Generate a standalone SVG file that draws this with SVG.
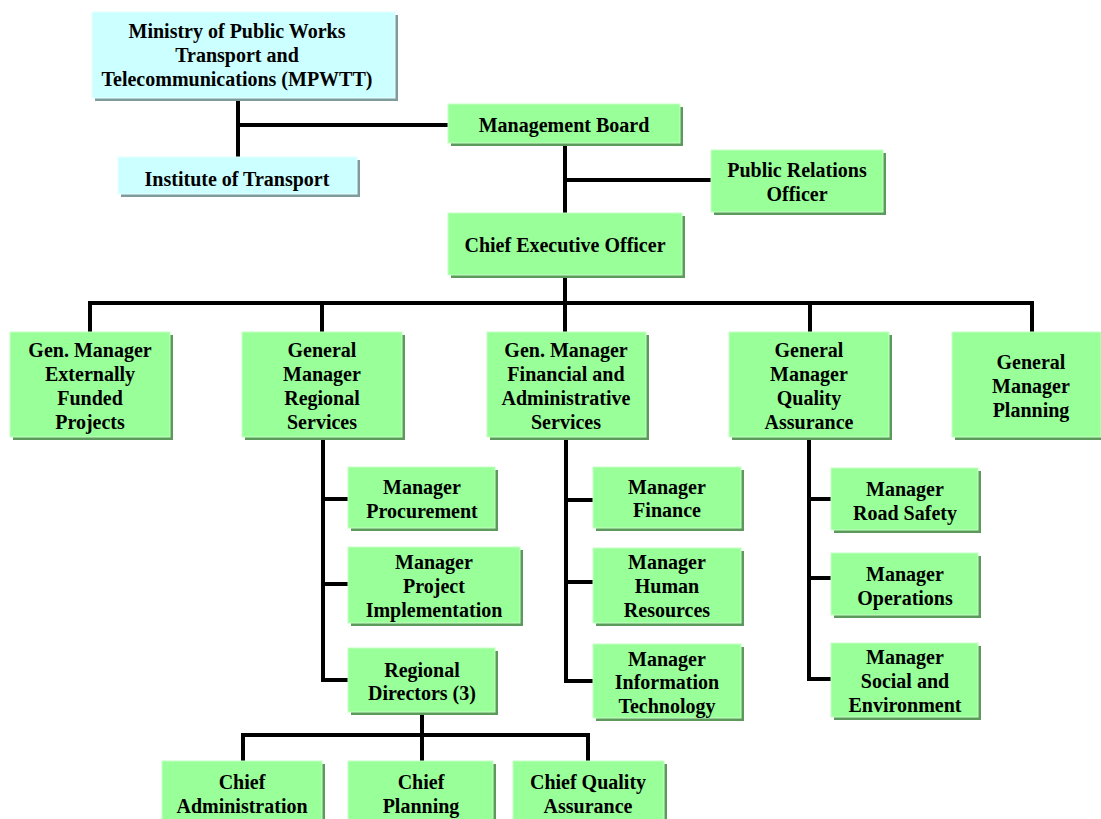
<svg xmlns="http://www.w3.org/2000/svg" width="1101" height="819" viewBox="0 0 1101 819">
<style>
.bg{fill:#ffffff}
.g{fill:#99ff99;stroke:#c4ffc4;stroke-width:1}
.gs{fill:#5c9a5c}
.c{fill:#ccffff;stroke:#e6ffff;stroke-width:1}
.cs{fill:#7f9c9c}
.t{font-family:"Liberation Serif","Times New Roman",serif;font-weight:bold;font-size:20px;fill:#000;text-anchor:middle}
.ln{fill:none;stroke:#000;stroke-width:4;stroke-linejoin:miter;stroke-linecap:butt}
</style>
<rect class="bg" x="0" y="0" width="1101" height="819"/>
<g id="connectors">
<path class="ln" d="M238,98 V157 M238,125 H448"/>
<path class="ln" d="M565,143 V213 M565,180 H711"/>
<path class="ln" d="M565,275 V303 M90,332 V303 H1032 V332 M322,303 V332 M565,303 V332 M810,303 V332"/>
<path class="ln" d="M323,437 V680 H348 M323,499 H348 M323,584 H348"/>
<path class="ln" d="M566,437 V681 H593 M566,500 H593 M566,582 H593"/>
<path class="ln" d="M809,437 V679 H831 M809,499 H831 M809,578 H831"/>
<path class="ln" d="M422,712 V735 M243,761 V735 H588 V761 M422,735 V761"/>
</g>
<g id="n-mpwtt"><rect class="cs" x="95" y="15" width="303" height="86"/><rect class="c" x="92" y="12" width="303" height="86"/>
<text class="t" x="237" y="38">Ministry of Public Works</text><text class="t" x="237" y="62">Transport and</text><text class="t" x="237" y="86">Telecommunications (MPWTT)</text></g>
<g id="n-institute"><rect class="cs" x="121" y="160" width="239" height="37"/><rect class="c" x="118" y="157" width="239" height="37"/>
<text class="t" x="237" y="186">Institute of Transport</text></g>
<g id="n-board"><rect class="gs" x="451" y="107" width="232" height="39"/><rect class="g" x="448" y="104" width="232" height="39"/>
<text class="t" x="564" y="132">Management Board</text></g>
<g id="n-pro"><rect class="gs" x="714" y="153" width="172" height="62"/><rect class="g" x="711" y="150" width="172" height="62"/>
<text class="t" x="797" y="177">Public Relations</text><text class="t" x="797" y="201">Officer</text></g>
<g id="n-ceo"><rect class="gs" x="451" y="216" width="234" height="62"/><rect class="g" x="448" y="213" width="234" height="62"/>
<text class="t" x="565" y="252">Chief Executive Officer</text></g>
<g id="n-efp"><rect class="gs" x="13" y="335" width="160" height="105"/><rect class="g" x="10" y="332" width="160" height="105"/>
<text class="t" x="90" y="357">Gen. Manager</text><text class="t" x="90" y="381">Externally</text><text class="t" x="90" y="405">Funded</text><text class="t" x="90" y="429">Projects</text></g>
<g id="n-regional"><rect class="gs" x="245" y="335" width="160" height="105"/><rect class="g" x="242" y="332" width="160" height="105"/>
<text class="t" x="322" y="357">General</text><text class="t" x="322" y="381">Manager</text><text class="t" x="322" y="405">Regional</text><text class="t" x="322" y="429">Services</text></g>
<g id="n-financial"><rect class="gs" x="490" y="335" width="159" height="105"/><rect class="g" x="487" y="332" width="159" height="105"/>
<text class="t" x="566" y="357">Gen.  Manager</text><text class="t" x="566" y="381">Financial and</text><text class="t" x="566" y="405">Administrative</text><text class="t" x="566" y="429">Services</text></g>
<g id="n-qa"><rect class="gs" x="732" y="335" width="160" height="105"/><rect class="g" x="729" y="332" width="160" height="105"/>
<text class="t" x="809" y="357">General</text><text class="t" x="809" y="381">Manager</text><text class="t" x="809" y="405">Quality</text><text class="t" x="809" y="429">Assurance</text></g>
<g id="n-planning"><rect class="gs" x="955" y="335" width="146" height="105"/><rect class="g" x="952" y="332" width="149" height="105"/>
<text class="t" x="1031" y="369">General</text><text class="t" x="1031" y="393">Manager</text><text class="t" x="1031" y="417">Planning</text></g>
<g id="n-procurement"><rect class="gs" x="351" y="470" width="147" height="61"/><rect class="g" x="348" y="467" width="147" height="61"/>
<text class="t" x="422" y="494">Manager</text><text class="t" x="422" y="518">Procurement</text></g>
<g id="n-project"><rect class="gs" x="351" y="550" width="172" height="76"/><rect class="g" x="348" y="547" width="172" height="76"/>
<text class="t" x="434" y="569">Manager</text><text class="t" x="434" y="593">Project</text><text class="t" x="434" y="617">Implementation</text></g>
<g id="n-regdir"><rect class="gs" x="351" y="651" width="147" height="64"/><rect class="g" x="348" y="648" width="147" height="64"/>
<text class="t" x="422" y="677">Regional</text><text class="t" x="422" y="700">Directors (3)</text></g>
<g id="n-finance"><rect class="gs" x="596" y="470" width="148" height="61"/><rect class="g" x="593" y="467" width="148" height="61"/>
<text class="t" x="667" y="494">Manager</text><text class="t" x="667" y="517">Finance</text></g>
<g id="n-hr"><rect class="gs" x="596" y="551" width="148" height="75"/><rect class="g" x="593" y="548" width="148" height="75"/>
<text class="t" x="667" y="569">Manager</text><text class="t" x="667" y="593">Human</text><text class="t" x="667" y="617">Resources</text></g>
<g id="n-it"><rect class="gs" x="596" y="647" width="148" height="74"/><rect class="g" x="593" y="644" width="148" height="74"/>
<text class="t" x="667" y="666">Manager</text><text class="t" x="667" y="689">Information</text><text class="t" x="667" y="713">Technology</text></g>
<g id="n-roadsafety"><rect class="gs" x="834" y="471" width="147" height="62"/><rect class="g" x="831" y="468" width="147" height="62"/>
<text class="t" x="905" y="496">Manager</text><text class="t" x="905" y="520">Road Safety</text></g>
<g id="n-operations"><rect class="gs" x="834" y="556" width="147" height="62"/><rect class="g" x="831" y="553" width="147" height="62"/>
<text class="t" x="905" y="581">Manager</text><text class="t" x="905" y="605">Operations</text></g>
<g id="n-social"><rect class="gs" x="834" y="646" width="147" height="74"/><rect class="g" x="831" y="643" width="147" height="74"/>
<text class="t" x="905" y="664">Manager</text><text class="t" x="905" y="688">Social and</text><text class="t" x="905" y="712">Environment</text></g>
<g id="n-chiefadmin"><rect class="gs" x="165" y="764" width="160" height="60"/><rect class="g" x="162" y="761" width="160" height="60"/>
<text class="t" x="242" y="789">Chief</text><text class="t" x="242" y="813">Administration</text></g>
<g id="n-chiefplanning"><rect class="gs" x="351" y="764" width="145" height="60"/><rect class="g" x="348" y="761" width="145" height="60"/>
<text class="t" x="421" y="789">Chief</text><text class="t" x="421" y="813">Planning</text></g>
<g id="n-chiefqa"><rect class="gs" x="516" y="764" width="151" height="60"/><rect class="g" x="513" y="761" width="151" height="60"/>
<text class="t" x="588" y="789">Chief Quality</text><text class="t" x="588" y="813">Assurance</text></g>
</svg>
